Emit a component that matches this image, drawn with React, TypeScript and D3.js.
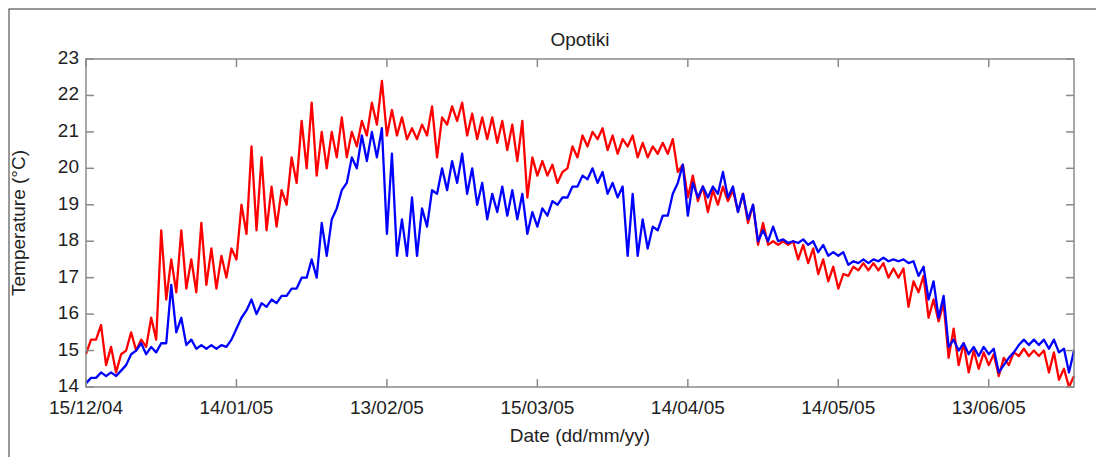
import React from 'react';
import * as d3 from 'd3';

// Opotiki water temperature, sampled every 2 days: [low, high] within each step
const startDate = '2004-12-15';
const stepDays = 2;
const endDay = 197;

const redRange: [number, number][] = [
  [14.9, 15.3], [15.3, 15.7], [14.6, 15.1], [14.4, 14.9], [15.0, 15.5],
  [15.0, 15.3], [15.1, 15.9], [15.3, 18.3], [16.4, 17.5], [16.6, 18.3],
  [16.7, 17.5], [16.6, 18.5], [16.8, 17.8], [16.7, 17.6], [17.0, 17.8],
  [17.5, 19.0], [18.2, 20.6], [18.3, 20.3], [18.3, 19.5], [18.4, 19.4],
  [19.0, 20.3], [19.6, 21.3], [20.0, 21.8], [19.8, 21.0], [20.0, 21.0],
  [20.3, 21.4], [20.3, 21.0], [20.6, 21.3], [20.9, 21.8], [21.2, 22.4],
  [20.9, 21.6], [20.9, 21.4], [20.8, 21.1], [20.8, 21.2], [20.9, 21.7],
  [20.3, 21.4], [21.2, 21.7], [21.3, 21.8], [20.9, 21.5], [20.8, 21.4],
  [20.8, 21.4], [20.7, 21.3], [20.5, 21.2], [20.2, 21.3], [19.2, 20.3],
  [19.8, 20.2], [19.8, 20.1], [19.6, 19.9], [20.0, 20.6], [20.3, 20.9],
  [20.6, 21.0], [20.8, 21.1], [20.5, 20.9], [20.4, 20.8], [20.6, 20.9],
  [20.3, 20.7], [20.3, 20.6], [20.4, 20.7], [20.4, 20.8], [19.9, 20.1],
  [19.2, 19.8], [19.1, 19.5], [18.8, 19.4], [19.0, 19.5], [19.1, 19.4],
  [18.8, 19.3], [18.5, 19.0], [17.9, 18.5], [17.9, 18.0], [17.9, 18.0],
  [17.9, 18.0], [17.5, 17.9], [17.4, 17.8], [17.1, 17.5], [16.9, 17.3],
  [16.7, 17.1], [17.05, 17.3], [17.2, 17.4], [17.2, 17.4], [17.2, 17.4],
  [17.0, 17.25], [17.0, 17.25], [16.2, 16.9], [16.6, 17.05], [15.9, 16.4],
  [15.8, 16.3], [14.8, 15.6], [14.6, 15.2], [14.4, 15.0], [14.5, 14.95],
  [14.6, 14.9], [14.3, 14.8], [14.6, 14.95], [14.85, 15.05], [14.85, 15.0],
  [14.85, 15.0], [14.4, 14.95], [14.2, 14.5], [14.0, 14.3],
];

const blueRange: [number, number][] = [
  [14.1, 14.25], [14.25, 14.4], [14.3, 14.4], [14.3, 14.45], [14.6, 14.9],
  [15.0, 15.2], [14.9, 15.1], [14.95, 15.2], [15.2, 16.8], [15.5, 15.9],
  [15.15, 15.3], [15.05, 15.15], [15.05, 15.15], [15.05, 15.15], [15.1, 15.3],
  [15.6, 15.9], [16.1, 16.4], [16.0, 16.3], [16.2, 16.4], [16.3, 16.5],
  [16.5, 16.7], [16.7, 17.0], [17.0, 17.5], [17.0, 18.5], [17.6, 18.6],
  [18.9, 19.4], [19.6, 20.3], [20.0, 20.9], [20.2, 21.0], [20.3, 21.1],
  [18.2, 20.4], [17.6, 18.6], [17.6, 19.2], [17.6, 18.9], [18.4, 19.4],
  [19.3, 20.0], [19.4, 20.2], [19.6, 20.4], [19.3, 20.0], [19.0, 19.6],
  [18.6, 19.3], [18.8, 19.5], [18.7, 19.4], [18.6, 19.3], [18.2, 18.8],
  [18.4, 18.9], [18.7, 19.1], [19.0, 19.2], [19.2, 19.5], [19.5, 19.8],
  [19.7, 20.0], [19.6, 19.9], [19.3, 19.6], [19.2, 19.5], [17.6, 19.3],
  [17.6, 18.6], [17.8, 18.4], [18.3, 18.7], [18.7, 19.3], [19.6, 20.1],
  [18.7, 19.6], [19.2, 19.5], [19.2, 19.5], [19.3, 19.9], [19.2, 19.5],
  [18.8, 19.3], [18.6, 19.0], [18.0, 18.3], [18.0, 18.4], [18.0, 18.05],
  [17.95, 18.0], [17.95, 18.05], [17.9, 18.0], [17.7, 17.9], [17.6, 17.7],
  [17.6, 17.7], [17.35, 17.45], [17.4, 17.5], [17.4, 17.5], [17.45, 17.55],
  [17.45, 17.5], [17.45, 17.5], [17.4, 17.45], [17.05, 17.3], [16.4, 16.9],
  [15.9, 16.5], [15.1, 15.3], [15.0, 15.2], [14.9, 15.1], [14.85, 15.1],
  [14.9, 15.05], [14.4, 14.6], [14.8, 14.95], [15.15, 15.3], [15.15, 15.3],
  [15.15, 15.3], [15.05, 15.3], [14.95, 15.05], [14.4, 15.0],
];

const xTickDates = ['2004-12-15', '2005-01-14', '2005-02-13', '2005-03-15', '2005-04-14', '2005-05-14', '2005-06-13'];
const yTicks = [14, 15, 16, 17, 18, 19, 20, 21, 22, 23];

const W = 1096;
const H = 457;
const margin = { left: 86, top: 59, right: 22, bottom: 70 };
const font = 'Liberation Sans, Arial, Helvetica, sans-serif';

const parse = d3.utcParse('%Y-%m-%d');
const fmt = d3.utcFormat('%d/%m/%y');
const DAY = 86400000;

export default function App() {
  const t0 = parse(startDate)!;
  const x = d3
    .scaleUtc()
    .domain([t0, new Date(t0.getTime() + endDay * DAY)])
    .range([margin.left, W - margin.right]);
  const y = d3.scaleLinear().domain([14, 23]).range([H - margin.bottom, margin.top]);

  const innerBottom = H - margin.bottom;
  const innerRight = W - margin.right;

  // each step: low at the start, high half way through
  const toPoints = (rows: [number, number][]) =>
    rows.flatMap(([lo, hi], i) => [
      [i * stepDays, lo],
      [i * stepDays + stepDays / 2, hi],
    ]);

  const line = d3
    .line<number[]>()
    .x(d => x(new Date(t0.getTime() + d[0] * DAY)))
    .y(d => y(d[1]));

  const tickLen = 8;
  const axisColor = '#8a8a8a';

  return (
    <svg width={W} height={H} style={{ position: 'absolute', left: 0, top: 0, background: '#fff' }}>
      <rect x={9} y={9} width={W + 10} height={H + 10} fill="#fff" stroke="#555" strokeWidth={1.2} />

      <text x={580} y={46} textAnchor="middle" fontFamily={font} fontSize={19} fill="#222">
        Opotiki
      </text>

      <path d={line(toPoints(redRange)) || ''} fill="none" stroke="#ff0000" strokeWidth={2.3} strokeLinejoin="round" />
      <path d={line(toPoints(blueRange)) || ''} fill="none" stroke="#0000ff" strokeWidth={2.3} strokeLinejoin="round" />

      <rect
        x={margin.left}
        y={margin.top}
        width={innerRight - margin.left}
        height={innerBottom - margin.top}
        fill="none"
        stroke={axisColor}
        strokeWidth={1.5}
      />

      {xTickDates.map(s => {
        const px = x(parse(s)!);
        return (
          <g key={s}>
            <line x1={px} x2={px} y1={innerBottom} y2={innerBottom - tickLen} stroke={axisColor} strokeWidth={1.5} />
            <line x1={px} x2={px} y1={margin.top} y2={margin.top + tickLen} stroke={axisColor} strokeWidth={1.5} />
            <text x={px} y={414} textAnchor="middle" fontFamily={font} fontSize={19} fill="#222">
              {fmt(parse(s)!)}
            </text>
          </g>
        );
      })}

      {yTicks.map(v => {
        const py = y(v);
        return (
          <g key={v}>
            <line x1={margin.left} x2={margin.left + tickLen} y1={py} y2={py} stroke={axisColor} strokeWidth={1.5} />
            <line x1={innerRight} x2={innerRight - tickLen} y1={py} y2={py} stroke={axisColor} strokeWidth={1.5} />
            <text x={79} y={py + 5} textAnchor="end" fontFamily={font} fontSize={19} fill="#222">
              {v}
            </text>
          </g>
        );
      })}

      <text x={580} y={442} textAnchor="middle" fontFamily={font} fontSize={19} fill="#222">
        Date (dd/mm/yy)
      </text>
      <text
        transform={`translate(25, ${(margin.top + innerBottom) / 2}) rotate(-90)`}
        textAnchor="middle"
        fontFamily={font}
        fontSize={19}
        fill="#222"
      >
        Temperature (°C)
      </text>
    </svg>
  );
}
